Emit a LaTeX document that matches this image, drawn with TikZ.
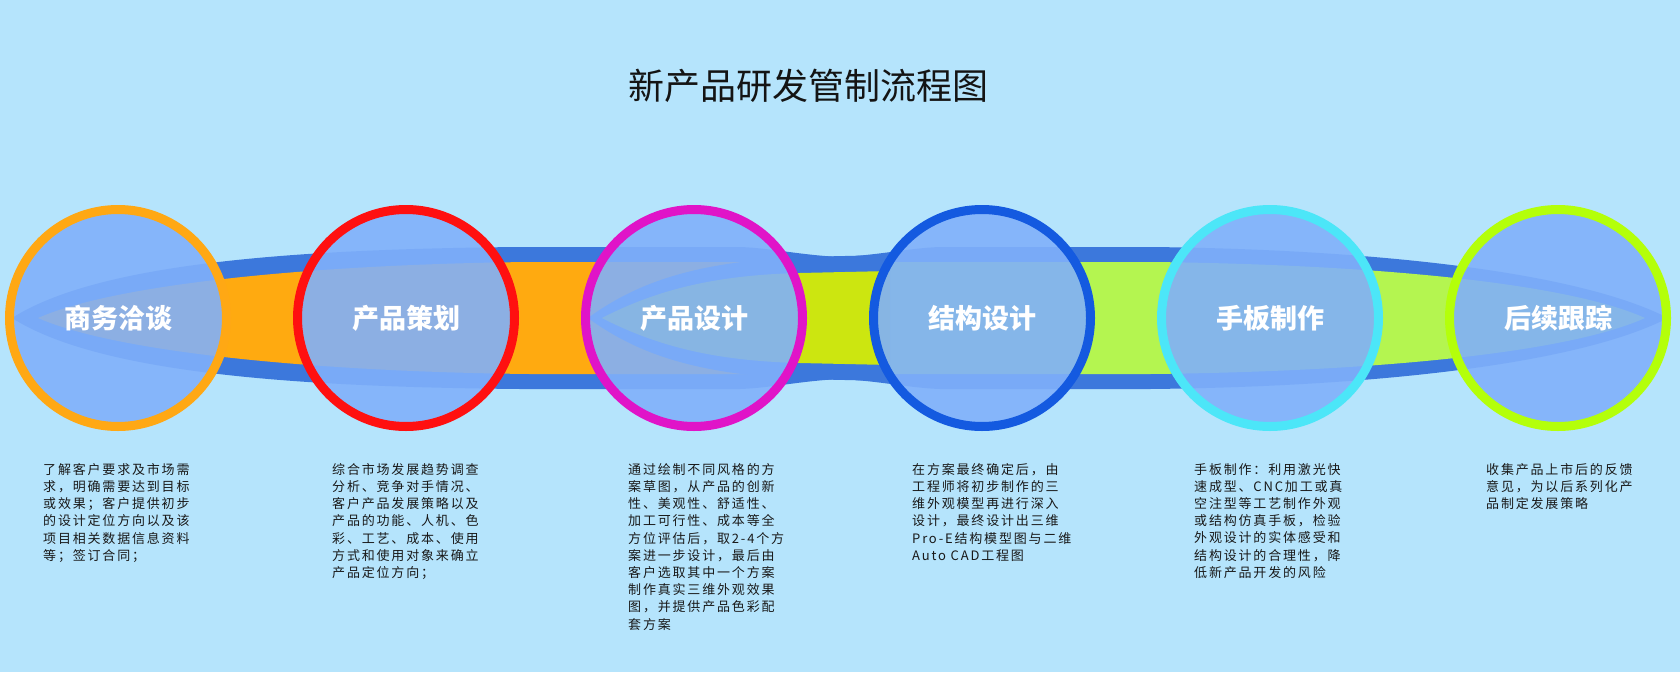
\documentclass[tikz,border=0pt]{standalone}
\usepackage{fontspec}
\newfontfamily\cjk{Noto Sans CJK SC}
\newfontfamily\cjkdesc[LetterSpace=14]{Noto Sans CJK SC}
\definecolor{bg}{HTML}{B5E4FC}
\definecolor{bandblue}{HTML}{3C78DC}
\definecolor{bandorange}{HTML}{FFAA10}
\definecolor{bandyellow}{HTML}{CCE610}
\definecolor{bandgreen}{HTML}{B4F550}
\definecolor{circfill}{HTML}{80B0FA}
\definecolor{ringA}{HTML}{FFA814}
\definecolor{ringB}{HTML}{FF1010}
\definecolor{ringC}{HTML}{E014C8}
\definecolor{ringD}{HTML}{145AE0}
\definecolor{ringE}{HTML}{4CE6F8}
\definecolor{ringF}{HTML}{B4FF0A}
\begin{document}
\begin{tikzpicture}[x=1pt,y=-1pt,
  stage/.style={circle, inner sep=0pt, minimum size=217pt, line width=9pt,
    fill=circfill, fill opacity=0.9, draw opacity=1, text opacity=1,
    text=white, font=\cjk\bfseries\fontsize{27}{30}\selectfont},
  desc/.style={anchor=north west, inner sep=0pt, align=left,
    font=\cjkdesc\fontsize{13}{17.2}\selectfont, text=black!90}]
\fill[bg] (0,0) rectangle (1680,672);
% title
\node[font=\cjk\fontsize{36}{40}\selectfont, text=black!92] (title) at (808,86) {新产品研发管制流程图};
% dark band backdrop
\fill[bandblue] (12,318) .. controls (100,262) and (300,249) .. (520,247) -- (740,247)
  .. controls (770,248) and (800,255) .. (840,257) .. controls (880,255) and (910,248) .. (940,247)
  -- (1150,247) .. controls (1350,249) and (1570,268) .. (1668,318)
  .. controls (1570,368) and (1350,387) .. (1150,389) -- (940,389)
  .. controls (910,388) and (880,381) .. (840,379) .. controls (800,381) and (770,388) .. (740,389)
  -- (520,389) .. controls (300,387) and (100,374) .. (12,318) -- cycle;
% orange inner
\fill[bandorange] (38,318) .. controls (120,282) and (330,264) .. (530,262) -- (800,262)
  -- (800,374) -- (530,374) .. controls (330,372) and (120,354) .. (38,318) -- cycle;
% green inner
\fill[bandgreen] (885,262) -- (1150,262) .. controls (1350,264) and (1560,280) .. (1645,318)
  .. controls (1560,356) and (1350,372) .. (1150,374) -- (885,374) -- cycle;
% middle segment
\fill[bandblue] (588,318) .. controls (640,280) and (700,262) .. (800,257) -- (890,255)
  -- (890,381) -- (800,379) .. controls (700,374) and (640,356) .. (588,318) -- cycle;
\fill[bandyellow] (602,318) .. controls (660,288) and (720,275) .. (800,273) -- (890,271)
  -- (890,365) -- (800,363) .. controls (720,361) and (660,348) .. (602,318) -- cycle;
% stages
\node[stage, draw=ringA] (c1) at (118,318) {商务洽谈};
\node[stage, draw=ringB] (c2) at (406,318) {产品策划};
\node[stage, draw=ringC] (c3) at (694,318) {产品设计};
\node[stage, draw=ringD] (c4) at (982,318) {结构设计};
\node[stage, draw=ringE] (c5) at (1270,318) {手板制作};
\node[stage, draw=ringF] (c6) at (1558,318) {后续跟踪};
% descriptions
\node[desc] (d1) at (43,463) {了解客户要求及市场需\\求，明确需要达到目标\\或效果；客户提供初步\\的设计定位方向以及该\\项目相关数据信息资料\\等；签订合同；};
\node[desc] (d2) at (332,463) {综合市场发展趋势调查\\分析、竞争对手情况、\\客户产品发展策略以及\\产品的功能、人机、色\\彩、工艺、成本、使用\\方式和使用对象来确立\\产品定位方向；};
\node[desc] (d3) at (628,463) {通过绘制不同风格的方\\案草图，从产品的创新\\性、美观性、舒适性、\\加工可行性、成本等全\\方位评估后，取2-4个方\\案进一步设计，最后由\\客户选取其中一个方案\\制作真实三维外观效果\\图，并提供产品色彩配\\套方案};
\node[desc] (d4) at (912,463) {在方案最终确定后，由\\工程师将初步制作的三\\维外观模型再进行深入\\设计，最终设计出三维\\Pro-E结构模型图与二维\\Auto CAD工程图};
\node[desc] (d5) at (1194,463) {手板制作：利用激光快\\速成型、CNC加工或真\\空注型等工艺制作外观\\或结构仿真手板，检验\\外观设计的实体感受和\\结构设计的合理性，降\\低新产品开发的风险};
\node[desc] (d6) at (1486,463) {收集产品上市后的反馈\\意见，为以后系列化产\\品制定发展策略};
\end{tikzpicture}
\end{document}
